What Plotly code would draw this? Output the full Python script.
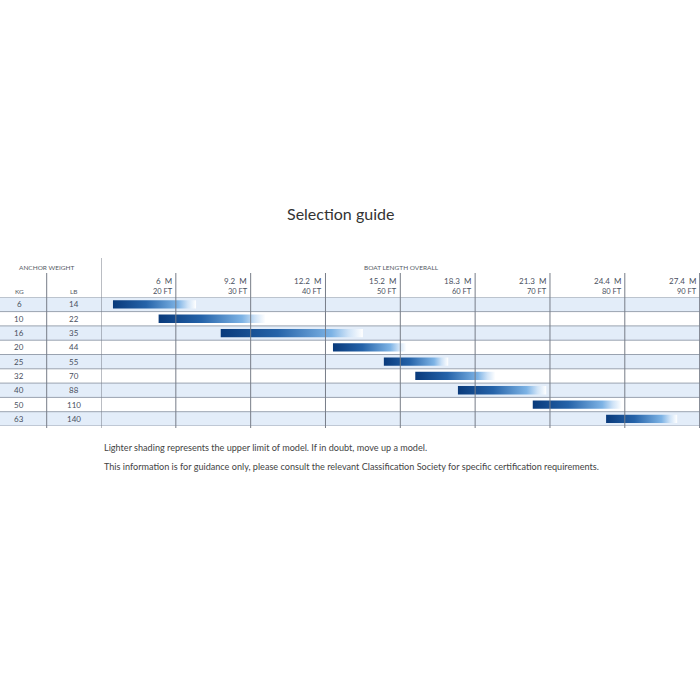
import plotly.graph_objects as go

kg = ["6", "10", "16", "20", "25", "32", "40", "50", "63"]
lb = ["14", "22", "35", "44", "55", "70", "88", "110", "140"]
start_ft = [11.6, 17.7, 26.0, 41.0, 47.8, 52.0, 57.7, 67.7, 77.5]
end_ft = [22.7, 32.0, 45.0, 50.8, 56.4, 62.7, 69.5, 79.6, 87.0]
tick_ft = [20, 30, 40, 50, 60, 70, 80, 90]
tick_m = ["6", "9.2", "12.2", "15.2", "18.3", "21.3", "24.4", "27.4"]

W, H = 700, 700
def py(px):  # pixel row -> paper y
    return 1 - px / H
def pxx(px):
    return px / W

row_top, row_bot = 297.3, 426.0
n = len(kg)
fig = go.Figure()

grad = [[0, "#093a7b"], [0.4, "#2563a9"], [0.78, "#7db3e5"], [0.9, "#cfe3f7"], [1, "#ffffff"]]
half = 0.29
for i in range(n):
    x0, x1 = start_ft[i], end_ft[i]
    fig.add_trace(go.Scatter(
        x=[x0, x1, x1, x0, x0], y=[i - half, i - half, i + half, i + half, i - half],
        mode="lines", line=dict(width=0), fill="toself",
        fillgradient=dict(type="horizontal", colorscale=grad),
        hoverinfo="skip", showlegend=False))

shapes = []
for i in range(n):
    if i % 2 == 0:
        shapes.append(dict(type="rect", xref="paper", yref="y", x0=0, x1=1,
                           y0=i - 0.5, y1=i + 0.5, fillcolor="#e3edf9",
                           line=dict(width=0), layer="below"))
for i in range(n + 1):
    shapes.append(dict(type="line", xref="paper", yref="y", x0=0, x1=1,
                       y0=i - 0.5, y1=i - 0.5, line=dict(color="#9aa3b0", width=1)))
for t in tick_ft:
    shapes.append(dict(type="line", xref="x", yref="paper", x0=t, x1=t,
                       y0=py(row_bot + 2), y1=py(273), line=dict(color="#777d88", width=1)))
shapes.append(dict(type="line", xref="x", yref="paper", x0=10, x1=10,
                   y0=py(row_bot + 2), y1=py(258), line=dict(color="#777d88", width=1)))
shapes.append(dict(type="line", xref="paper", yref="paper", x0=pxx(46.7), x1=pxx(46.7),
                   y0=py(row_bot + 2), y1=py(273), line=dict(color="#777d88", width=1)))

ann = []
def A(**kw):
    d = dict(showarrow=False, xanchor="center", yanchor="middle")
    d.update(kw)
    ann.append(d)

tf = dict(family="Lato, Open Sans, sans-serif", size=6.5, color="#555b66")
cell = dict(family="Lato, sans-serif", size=8, color="#4a5060")
for i in range(n):
    A(xref="paper", yref="y", x=pxx(19), y=i, text=kg[i], font=cell)
    A(xref="paper", yref="y", x=pxx(74), y=i, text=lb[i], font=cell)
A(xref="paper", yref="paper", x=pxx(47), y=py(267), text="ANCHOR WEIGHT", font=tf)
A(xref="paper", yref="paper", x=pxx(401), y=py(267), text="BOAT LENGTH OVERALL", font=tf)
A(xref="paper", yref="paper", x=pxx(19), y=py(291), text="KG", font=tf)
A(xref="paper", yref="paper", x=pxx(74), y=py(291), text="LB", font=tf)
for t, m in zip(tick_ft, tick_m):
    A(xref="x", yref="paper", x=t, y=py(281), xanchor="right", xshift=-2,
      text=m + "&nbsp;&nbsp;M", font=dict(family="Lato, sans-serif", size=8, color="#4a5060"))
    A(xref="x", yref="paper", x=t, y=py(291), xanchor="right", xshift=-1,
      text=str(t) + "&nbsp;FT", font=dict(family="Lato, sans-serif", size=7.5, color="#4a5060"))

A(xref="paper", yref="paper", x=pxx(340), y=py(213), text="Selection guide",
  font=dict(family="Lato, sans-serif", size=16, color="#333333"))
A(xref="paper", yref="paper", x=pxx(102), y=py(447), xanchor="left",
  text="Lighter shading represents the upper limit of model. If in doubt, move up a model.",
  font=dict(family="Lato, sans-serif", size=9.1, color="#444444"))
A(xref="paper", yref="paper", x=pxx(102), y=py(466), xanchor="left",
  text="This information is for guidance only, please consult the relevant Classification Society for specific certification requirements.",
  font=dict(family="Lato, sans-serif", size=9.1, color="#444444"))

fig.update_layout(
    width=W, height=H, margin=dict(l=0, r=0, t=0, b=0),
    paper_bgcolor="white", plot_bgcolor="rgba(0,0,0,0)",
    xaxis=dict(domain=[pxx(101), 1.0], range=[10, 90.05], visible=False, fixedrange=True),
    yaxis=dict(domain=[py(row_bot), py(row_top)], range=[n - 0.5, -0.5], visible=False, fixedrange=True),
    shapes=shapes, annotations=ann, showlegend=False,
)
fig.write_html("out.html")
